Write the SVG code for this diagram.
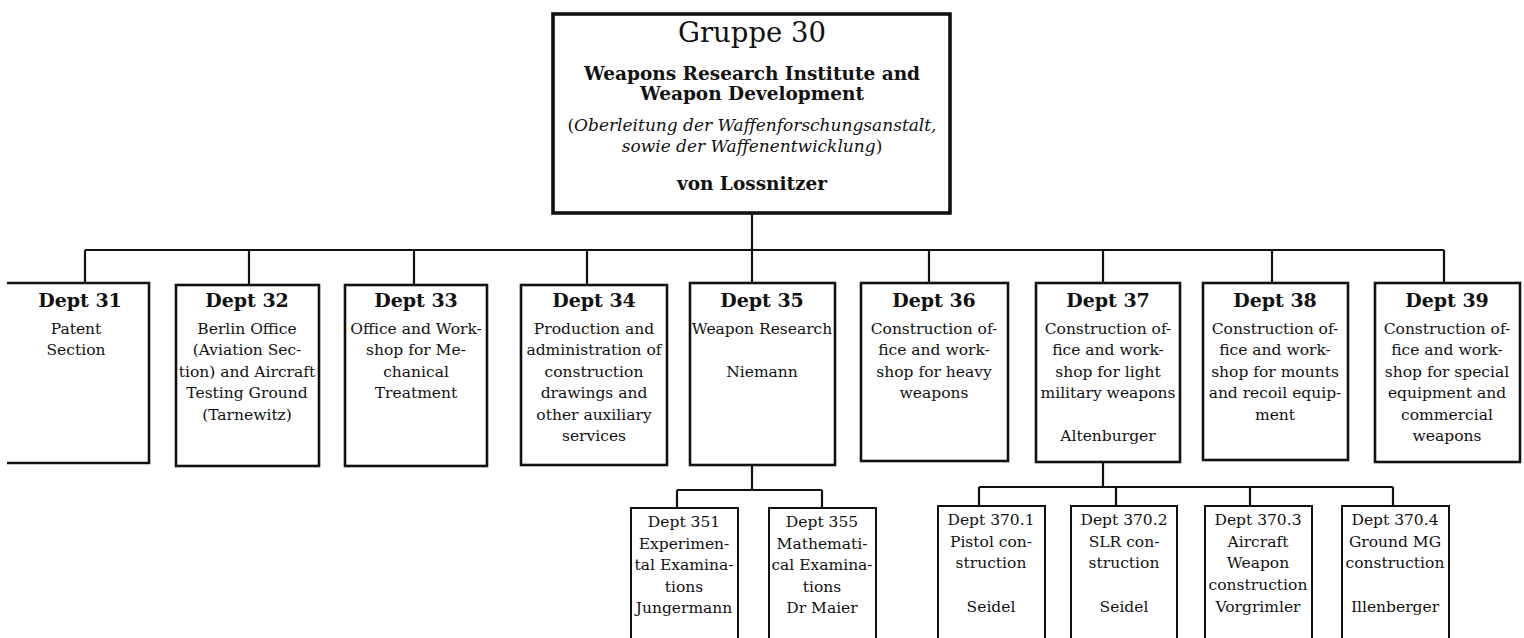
<svg xmlns="http://www.w3.org/2000/svg" width="1524" height="638" viewBox="0 0 1524 638">
<style>
.bg{fill:#fff}
.box{fill:#fff;stroke:#111;stroke-width:2.6}
.top{fill:#fff;stroke:#111;stroke-width:3.6}
.sub{fill:#fff;stroke:#111;stroke-width:2}
.con{fill:none;stroke:#111;stroke-width:2.2}
text{font-family:"DejaVu Serif","Liberation Serif",serif;fill:#111;text-anchor:middle}
.h{font-size:19px;font-weight:bold}
.t{font-size:15.5px}
.s{font-size:15.5px}
.g{font-size:27.5px}
.b{font-size:18.5px;font-weight:bold}
.i{font-size:17px;font-style:italic}
.n{font-style:normal}
</style>
<rect class="bg" x="0" y="0" width="1524" height="638"/>
<g id="connectors">
<path class="con" d="M752,213 V250 M85,250 H1444 M85,250 V283 M249,250 V285 M414,250 V285 M587,250 V285 M752,250 V283 M929,250 V283 M1103,250 V283 M1272,250 V283 M1444,250 V283"/>
<path class="con" d="M752,465 V490 M677,490 H822 M677,490 V508 M822,490 V508"/>
<path class="con" d="M1103,462 V487 M979,487 H1393 M979,487 V506 M1116,487 V506 M1250,487 V506 M1393,487 V506"/>
</g>
<g id="gruppe30">
<rect class="top" x="553" y="14" width="397" height="199"/>
<text class="g" x="752" y="42">Gruppe 30</text>
<text class="b" x="752" y="80">Weapons Research Institute and</text>
<text class="b" x="752" y="100">Weapon Development</text>
<text class="i" x="752" y="131"><tspan class="n">(</tspan>Oberleitung der Waffenforschungsanstalt,</text>
<text class="i" x="752" y="152">sowie der Waffenentwicklung<tspan class="n">)</tspan></text>
<text class="b" x="752" y="190">von Lossnitzer</text>
</g>
<g id="dept31">
<path class="box" d="M7,283 H149 V463 H7"/>
<text class="h" x="80" y="307">Dept 31</text>
<text class="t" x="76" y="334">Patent</text>
<text class="t" x="76" y="355">Section</text>
</g>
<g id="dept32">
<rect class="box" x="176" y="285" width="143" height="181"/>
<text class="h" x="247" y="307">Dept 32</text>
<text class="t" x="247" y="334">Berlin Office</text>
<text class="t" x="247" y="355">(Aviation Sec-</text>
<text class="t" x="247" y="377">tion) and Aircraft</text>
<text class="t" x="247" y="398">Testing Ground</text>
<text class="t" x="247" y="420">(Tarnewitz)</text>
</g>
<g id="dept33">
<rect class="box" x="345" y="285" width="142" height="181"/>
<text class="h" x="416" y="307">Dept 33</text>
<text class="t" x="416" y="334">Office and Work-</text>
<text class="t" x="416" y="355">shop for Me-</text>
<text class="t" x="416" y="377">chanical</text>
<text class="t" x="416" y="398">Treatment</text>
</g>
<g id="dept34">
<rect class="box" x="521" y="285" width="146" height="180"/>
<text class="h" x="594" y="307">Dept 34</text>
<text class="t" x="594" y="334">Production and</text>
<text class="t" x="594" y="355">administration of</text>
<text class="t" x="594" y="377">construction</text>
<text class="t" x="594" y="398">drawings and</text>
<text class="t" x="594" y="420">other auxiliary</text>
<text class="t" x="594" y="441">services</text>
</g>
<g id="dept35">
<rect class="box" x="690" y="283" width="145" height="182"/>
<text class="h" x="762" y="307">Dept 35</text>
<text class="t" x="762" y="334">Weapon Research</text>
<text class="t" x="762" y="377">Niemann</text>
</g>
<g id="dept36">
<rect class="box" x="861" y="283" width="147" height="178"/>
<text class="h" x="934" y="307">Dept 36</text>
<text class="t" x="934" y="334">Construction of-</text>
<text class="t" x="934" y="355">fice and work-</text>
<text class="t" x="934" y="377">shop for heavy</text>
<text class="t" x="934" y="398">weapons</text>
</g>
<g id="dept37">
<rect class="box" x="1036" y="283" width="144" height="179"/>
<text class="h" x="1108" y="307">Dept 37</text>
<text class="t" x="1108" y="334">Construction of-</text>
<text class="t" x="1108" y="355">fice and work-</text>
<text class="t" x="1108" y="377">shop for light</text>
<text class="t" x="1108" y="398">military weapons</text>
<text class="t" x="1108" y="441">Altenburger</text>
</g>
<g id="dept38">
<rect class="box" x="1203" y="283" width="145" height="177"/>
<text class="h" x="1275" y="307">Dept 38</text>
<text class="t" x="1275" y="334">Construction of-</text>
<text class="t" x="1275" y="355">fice and work-</text>
<text class="t" x="1275" y="377">shop for mounts</text>
<text class="t" x="1275" y="398">and recoil equip-</text>
<text class="t" x="1275" y="420">ment</text>
</g>
<g id="dept39">
<rect class="box" x="1375" y="283" width="145" height="179"/>
<text class="h" x="1447" y="307">Dept 39</text>
<text class="t" x="1447" y="334">Construction of-</text>
<text class="t" x="1447" y="355">fice and work-</text>
<text class="t" x="1447" y="377">shop for special</text>
<text class="t" x="1447" y="398">equipment and</text>
<text class="t" x="1447" y="420">commercial</text>
<text class="t" x="1447" y="441">weapons</text>
</g>
<g id="dept351">
<rect class="sub" x="631" y="508" width="107" height="140"/>
<text class="s" x="684" y="527">Dept 351</text>
<text class="s" x="684" y="549">Experimen-</text>
<text class="s" x="684" y="570">tal Examina-</text>
<text class="s" x="684" y="592">tions</text>
<text class="s" x="684" y="613">Jungermann</text>
</g>
<g id="dept355">
<rect class="sub" x="769" y="508" width="107" height="140"/>
<text class="s" x="822" y="527">Dept 355</text>
<text class="s" x="822" y="549">Mathemati-</text>
<text class="s" x="822" y="570">cal Examina-</text>
<text class="s" x="822" y="592">tions</text>
<text class="s" x="822" y="613">Dr Maier</text>
</g>
<g id="dept3701">
<rect class="sub" x="938" y="506" width="107" height="142"/>
<text class="s" x="991" y="525">Dept 370.1</text>
<text class="s" x="991" y="547">Pistol con-</text>
<text class="s" x="991" y="568">struction</text>
<text class="s" x="991" y="612">Seidel</text>
</g>
<g id="dept3702">
<rect class="sub" x="1071" y="506" width="106" height="142"/>
<text class="s" x="1124" y="525">Dept 370.2</text>
<text class="s" x="1124" y="547">SLR con-</text>
<text class="s" x="1124" y="568">struction</text>
<text class="s" x="1124" y="612">Seidel</text>
</g>
<g id="dept3703">
<rect class="sub" x="1205" y="506" width="107" height="142"/>
<text class="s" x="1258" y="525">Dept 370.3</text>
<text class="s" x="1258" y="547">Aircraft</text>
<text class="s" x="1258" y="568">Weapon</text>
<text class="s" x="1258" y="590">construction</text>
<text class="s" x="1258" y="612">Vorgrimler</text>
</g>
<g id="dept3704">
<rect class="sub" x="1342" y="506" width="107" height="142"/>
<text class="s" x="1395" y="525">Dept 370.4</text>
<text class="s" x="1395" y="547">Ground MG</text>
<text class="s" x="1395" y="568">construction</text>
<text class="s" x="1395" y="612">Illenberger</text>
</g>
</svg>
